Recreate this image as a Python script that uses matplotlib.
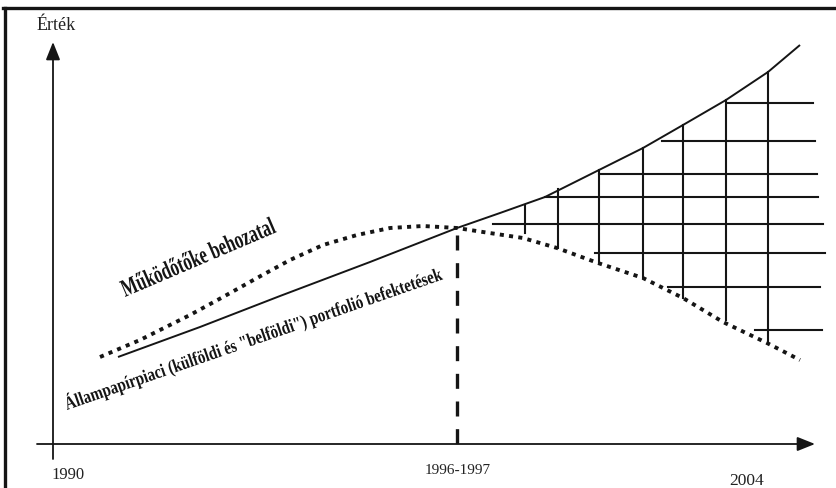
import math
import matplotlib
matplotlib.use("Agg")
import matplotlib.pyplot as plt
from matplotlib.lines import Line2D
from matplotlib.patheffects import AbstractPathEffect
from matplotlib.transforms import Affine2D

# ---- data (chart units: x = time position, y = value) ----
portfolio_x = [65, 147, 227, 317, 404, 447, 492, 546, 590, 630, 673, 715, 747]
portfolio_y = [87, 117, 148, 182, 216, 231, 247, 274, 296, 319, 344, 372, 399]

fdi_x = [47, 87, 137, 170, 204, 237, 270, 304, 337, 370, 404, 430, 470, 504,
         545, 590, 630, 670, 714, 747]
fdi_y = [87, 104, 129, 147, 166, 184, 199, 209, 216, 218, 216, 212, 206, 196,
         181, 166, 146, 122, 101, 84]

turn_x = 404
turn_y = 216

hatch_v_x = [472, 505, 546, 590, 630, 673, 715]
hatch_v_top = [239, 255, 274, 296, 319, 344, 372]
hatch_v_bottom = [211, 196, 181, 166, 146, 124, 102]

hatch_h_y = [341, 303, 270, 247, 220, 191, 157, 114]
hatch_h_start = [674, 609, 546, 492, 440, 542, 615, 702]
hatch_h_end = [760, 762, 764, 765, 770, 772, 767, 769]

tick_labels = ["1990", "1996-1997", "2004"]
tick_pos = [15, 405, 694]
tick_off = [-31, -27, -37]

y_label = "Érték"
fdi_label = "Működőtőke behozatal"
portfolio_label = 'Állampapírpiaci (külföldi és "belföldi") portfolió befektetések'

# label baselines (start, end) in chart units
fdi_label_line = ((72, 147), (224, 212))
portfolio_label_line = ((14, 34), (391, 165))

W, H = 837, 488
fig = plt.figure(figsize=(W / 100, H / 100), dpi=100)
ax = fig.add_axes([0, 0, 1, 1])
ax.set_xlim(-53, W - 53)
ax.set_ylim(-44, H - 44)
ax.axis("off")

ink = "#151515"
serif = ["Liberation Serif", "DejaVu Serif"]


class Condensed(AbstractPathEffect):
    """Draw text glyphs horizontally condensed and rotated about the anchor."""

    def __init__(self, text, sx, angle):
        super().__init__()
        self.text = text
        self.sx = sx
        self.angle = angle

    def draw_path(self, renderer, gc, tpath, affine, rgbFace=None):
        x0, y0 = self.text.get_transform().transform(self.text.get_position())
        extra = (Affine2D().translate(-x0, -y0).scale(self.sx, 1.0)
                 .rotate_deg(self.angle).translate(x0, y0))
        renderer.draw_path(gc, tpath, affine + extra, rgbFace)


def slanted_label(text, line, size):
    (xa, ya), (xb, yb) = line
    t = ax.text(xa, ya, text, ha="left", va="baseline", fontsize=size,
                fontweight="bold", family=serif, color=ink)
    r = fig.canvas.get_renderer()
    w = t.get_window_extent(r).width
    pa = ax.transData.transform((xa, ya))
    pb = ax.transData.transform((xb, yb))
    length = math.hypot(pb[0] - pa[0], pb[1] - pa[1])
    ang = math.degrees(math.atan2(pb[1] - pa[1], pb[0] - pa[0]))
    t.set_path_effects([Condensed(t, length / w, ang)])
    return t


# frame (top and left edges)
fig.add_artist(Line2D([4.5 / W, 4.5 / W], [0, 1 - 7.5 / H], color=ink, lw=2.4,
                      transform=fig.transFigure))
fig.add_artist(Line2D([3 / W, 1], [1 - 7.5 / H, 1 - 7.5 / H], color=ink, lw=2.4,
                      transform=fig.transFigure))

# axes with arrows
arrow = dict(arrowstyle="-|>,head_length=0.9,head_width=0.36", color=ink,
             lw=1.3, shrinkA=0, shrinkB=0, mutation_scale=12)
ax.annotate("", xy=(0, 402), xytext=(0, -15), arrowprops=arrow)
ax.annotate("", xy=(762, 0), xytext=(-16, 0), arrowprops=arrow)

# curves
ax.plot(portfolio_x, portfolio_y, color=ink, lw=1.4, solid_capstyle="butt")
ax.plot(fdi_x, fdi_y, color=ink, lw=2.8, linestyle=(0, (1.05, 1.35)),
        dash_capstyle="butt")

# turning point dashed line
ax.plot([turn_x, turn_x], [turn_y, 0], color=ink, lw=2.4,
        linestyle=(6.2, (4.5, 3.8)), dash_capstyle="butt")

# hatching
for x, t, b in zip(hatch_v_x, hatch_v_top, hatch_v_bottom):
    ax.plot([x, x], [b, t], color=ink, lw=1.5)
for y, s, e in zip(hatch_h_y, hatch_h_start, hatch_h_end):
    ax.plot([s, e], [y, y], color=ink, lw=1.5)

# labels
ax.text(3, 418, y_label, ha="center", va="center", fontsize=13,
        family=serif, color="#222222")
for lab, x, dy, fs in zip(tick_labels, tick_pos, tick_off, [12, 11, 12.5]):
    ax.text(x, dy, lab, ha="center", va="center", fontsize=fs,
            family=serif, color="#222222")

slanted_label(fdi_label, fdi_label_line, 18)
slanted_label(portfolio_label, portfolio_label_line, 13.5)

fig.savefig("out.png", dpi=100)
